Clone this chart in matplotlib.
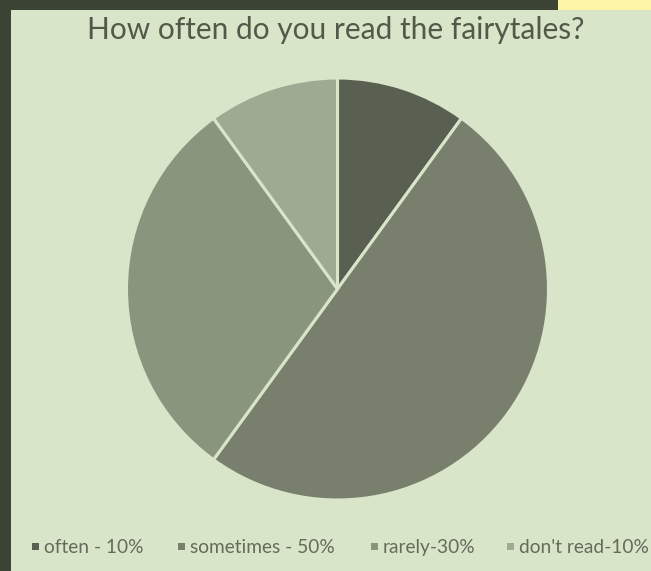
import matplotlib
matplotlib.use("Agg")
import matplotlib.pyplot as plt
from matplotlib.patches import Rectangle

categories = ["often - 10%", "sometimes - 50%", "rarely-30%", "don't read-10%"]
values = [10, 50, 30, 10]
colors = ["#5a6051", "#797f6d", "#8a957e", "#9eaa91"]
title = "How often do you read the fairytales?"

W, H = 651, 571
fig = plt.figure(figsize=(W / 100, H / 100), dpi=100)
fig.patch.set_facecolor("#3c4535")
# light panel
fig.patches.append(Rectangle((11 / W, 0), 1 - 11 / W, (H - 10) / H,
                             transform=fig.transFigure, facecolor="#d9e5c9",
                             edgecolor="none", zorder=-5))
# yellow corner
fig.patches.append(Rectangle((558 / W, (H - 10) / H), 1 - 558 / W, 10 / H,
                             transform=fig.transFigure, facecolor="#fdf5a8",
                             edgecolor="none", zorder=-5))

cx, cy, r = 337.5, 289, 211
ax = fig.add_axes([(cx - r) / W, (H - cy - r) / H, 2 * r / W, 2 * r / H])
ax.set_zorder(5)
ax.patch.set_visible(False)
ax.pie(values, colors=colors, startangle=90, counterclock=False,
       wedgeprops=dict(edgecolor="#d9e5c9", linewidth=2.2))
ax.set_xlim(-1.0, 1.0)
ax.set_ylim(-1.0, 1.0)
ax.set_aspect("equal")
ax.axis("off")

fig.text(336 / W, 1 - 39 / H, title, ha="center", va="baseline",
         fontsize=21.5, color="#525949", family="Lato", zorder=6)

leg_x = [32, 178, 371, 507]
base = 553
for x, lab, c in zip(leg_x, categories, colors):
    fig.patches.append(Rectangle((x / W, 1 - (base - 3) / H), 7 / W, 7 / H,
                                 transform=fig.transFigure, facecolor=c,
                                 edgecolor="none", zorder=6))
    fig.text((x + 12) / W, 1 - base / H, lab, ha="left", va="baseline",
             fontsize=13.8, color="#646b5b", family="Lato", zorder=6)

fig.savefig("out.png", dpi=100, facecolor=fig.get_facecolor())
